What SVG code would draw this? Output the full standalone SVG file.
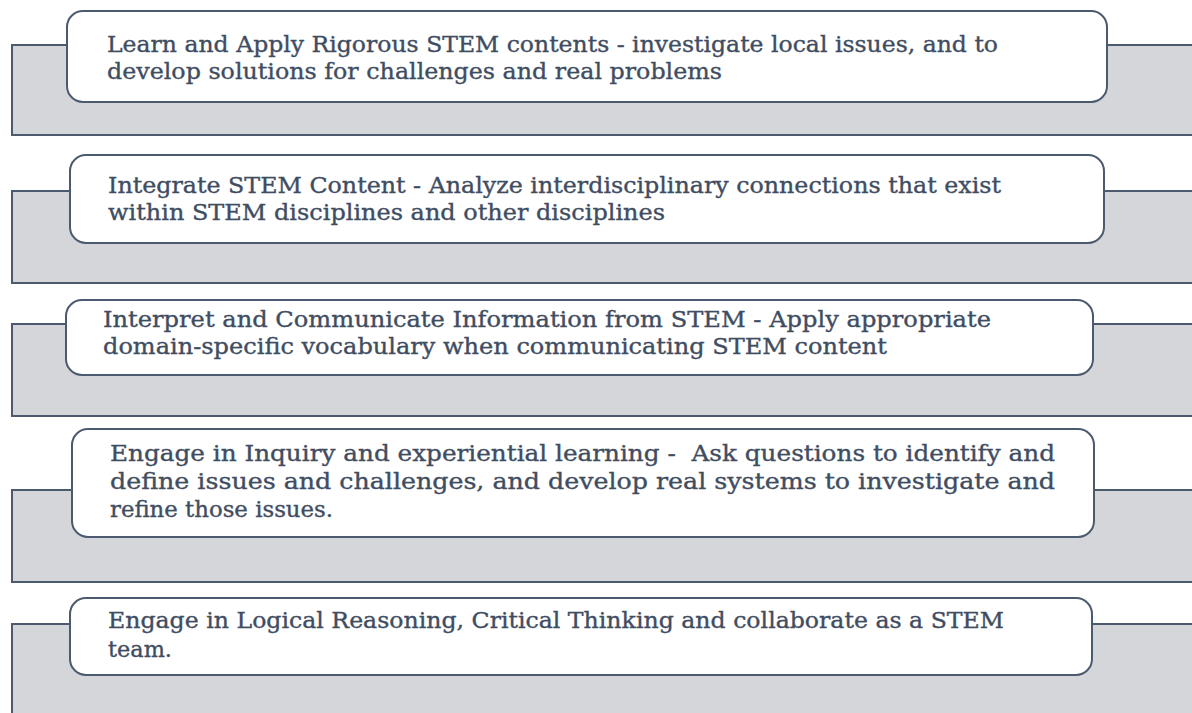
<svg xmlns="http://www.w3.org/2000/svg" width="1192" height="713" viewBox="0 0 1192 713">
  <style>
    .band { fill: #d5d6d9; stroke: #4b5a6e; stroke-width: 2; }
    .card { fill: #ffffff; stroke: #4b5a6e; stroke-width: 2; }
    .label { font-family: "DejaVu Serif", "Liberation Serif", serif; font-size: 21.5px; fill: #3f4d62; stroke: #3f4d62; stroke-width: 0.35px; }
  </style>
  <rect width="1192" height="713" fill="#ffffff"/>

  <g id="step-1">
    <rect class="band" x="12" y="45" width="1200" height="90"/>
    <rect class="card" x="67" y="11" width="1040" height="91" rx="16"/>
    <text class="label" x="107" y="52" textLength="891" lengthAdjust="spacingAndGlyphs">Learn and Apply Rigorous STEM contents - investigate local issues, and to</text>
    <text class="label" x="107" y="79" textLength="615" lengthAdjust="spacingAndGlyphs">develop solutions for challenges and real problems</text>
  </g>

  <g id="step-2">
    <rect class="band" x="12" y="191" width="1200" height="92"/>
    <rect class="card" x="70" y="155" width="1034" height="88" rx="16"/>
    <text class="label" x="108" y="193" textLength="893" lengthAdjust="spacingAndGlyphs">Integrate STEM Content - Analyze interdisciplinary connections that exist</text>
    <text class="label" x="108" y="220" textLength="557" lengthAdjust="spacingAndGlyphs">within STEM disciplines and other disciplines</text>
  </g>

  <g id="step-3">
    <rect class="band" x="12" y="324" width="1200" height="92"/>
    <rect class="card" x="66" y="300" width="1027" height="75" rx="16"/>
    <text class="label" x="103" y="327" textLength="888" lengthAdjust="spacingAndGlyphs">Interpret and Communicate Information from STEM - Apply appropriate</text>
    <text class="label" x="103" y="354" textLength="784" lengthAdjust="spacingAndGlyphs">domain-specific vocabulary when communicating STEM content</text>
  </g>

  <g id="step-4">
    <rect class="band" x="12" y="490" width="1200" height="92"/>
    <rect class="card" x="72" y="429" width="1022" height="108" rx="16"/>
    <text class="label" x="110" y="461" textLength="945" lengthAdjust="spacingAndGlyphs" xml:space="preserve">Engage in Inquiry and experiential learning -  Ask questions to identify and</text>
    <text class="label" x="110" y="489" textLength="945" lengthAdjust="spacingAndGlyphs">define issues and challenges, and develop real systems to investigate and</text>
    <text class="label" x="110" y="517" textLength="223" lengthAdjust="spacingAndGlyphs">refine those issues.</text>
  </g>

  <g id="step-5">
    <rect class="band" x="12" y="624" width="1200" height="100"/>
    <rect class="card" x="70" y="598" width="1022" height="77" rx="16"/>
    <text class="label" x="108" y="628" textLength="896" lengthAdjust="spacingAndGlyphs">Engage in Logical Reasoning, Critical Thinking and collaborate as a STEM</text>
    <text class="label" x="108" y="657" textLength="64" lengthAdjust="spacingAndGlyphs">team.</text>
  </g>
</svg>
